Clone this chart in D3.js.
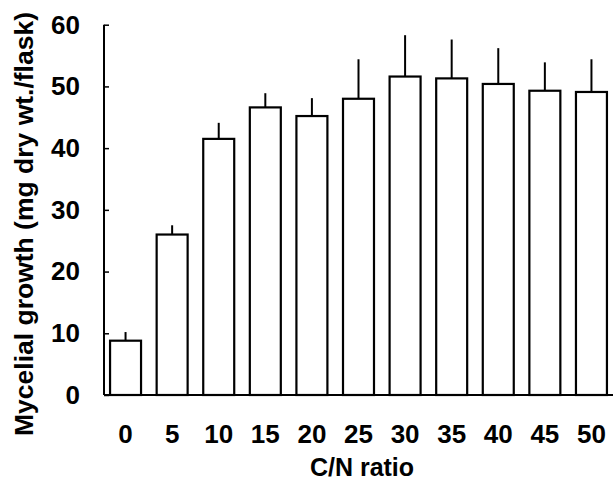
<!DOCTYPE html>
<html>
<head>
<meta charset="utf-8">
<script src="https://cdn.jsdelivr.net/npm/d3@7"></script>
<style>
  body { margin: 0; background: #fff; }
  svg text { font-family: "Liberation Sans", Arial, sans-serif; font-weight: bold; fill: #000; }
</style>
</head>
<body>
<script>
const ratios = ['0', '5', '10', '15', '20', '25', '30', '35', '40', '45', '50'];
const growth = [8.8, 26.0, 41.5, 46.6, 45.2, 48.0, 51.6, 51.3, 50.4, 49.3, 49.1];
const errors = [1.4, 1.5, 2.6, 2.3, 2.9, 6.4, 6.7, 6.3, 5.8, 4.6, 5.3];
const yTicks = [0, 10, 20, 30, 40, 50, 60];

const w = 613, h = 483;

const svg = d3.select('body').append('svg')
  .attr('width', w)
  .attr('height', h);

const xScale = d3.scaleBand()
  .domain(ratios)
  .range([104, 613])
  .paddingInner(0.335)
  .paddingOuter(0.13);

const yScale = d3.scaleLinear()
  .domain([0, 60])
  .range([395, 24.7]);

// bars
svg.selectAll('rect.bar')
  .data(ratios)
  .enter()
  .append('rect')
  .attr('class', 'bar')
  .attr('x', d => xScale(d))
  .attr('y', (d, i) => yScale(growth[i]))
  .attr('width', xScale.bandwidth())
  .attr('height', (d, i) => yScale(0) - yScale(growth[i]))
  .attr('fill', '#fff')
  .attr('stroke', '#000')
  .attr('stroke-width', 2.2);

// error bars (upper only)
svg.selectAll('line.err')
  .data(ratios)
  .enter()
  .append('line')
  .attr('class', 'err')
  .attr('x1', d => xScale(d) + xScale.bandwidth() / 2)
  .attr('x2', d => xScale(d) + xScale.bandwidth() / 2)
  .attr('y1', (d, i) => yScale(growth[i]))
  .attr('y2', (d, i) => yScale(growth[i] + errors[i]))
  .attr('stroke', '#000')
  .attr('stroke-width', 2);

// y axis
const yAxis = d3.axisRight(yScale)
  .tickValues(yTicks)
  .tickSize(5)
  .tickFormat(d3.format('d'));

const gy = svg.append('g')
  .attr('transform', 'translate(104,0)')
  .call(yAxis);
gy.select('.domain').attr('stroke-width', 2).attr('d', 'M0,' + yScale(60) + 'V' + yScale(0));
gy.selectAll('.tick line').attr('stroke-width', 1.5);
gy.selectAll('.tick text')
  .attr('x', -24)
  .attr('text-anchor', 'end')
  .style('font-size', '26px');

// x axis
const xAxis = d3.axisBottom(xScale).tickSize(0).tickPadding(30);
const gx = svg.append('g')
  .attr('transform', 'translate(0,395)')
  .call(xAxis);
gx.select('.domain').attr('stroke-width', 2).attr('d', 'M104,0H613');
gx.selectAll('.tick text').style('font-size', '26px');

// axis titles
svg.append('text')
  .attr('x', 362)
  .attr('y', 476)
  .attr('text-anchor', 'middle')
  .style('font-size', '25px')
  .text('C/N ratio');

svg.append('text')
  .attr('transform', 'translate(33,224) rotate(-90)')
  .attr('text-anchor', 'middle')
  .style('font-size', '26px')
  .attr('textLength', 424)
  .attr('lengthAdjust', 'spacingAndGlyphs')
  .text('Mycelial growth (mg dry wt./flask)');
</script>
</body>
</html>
